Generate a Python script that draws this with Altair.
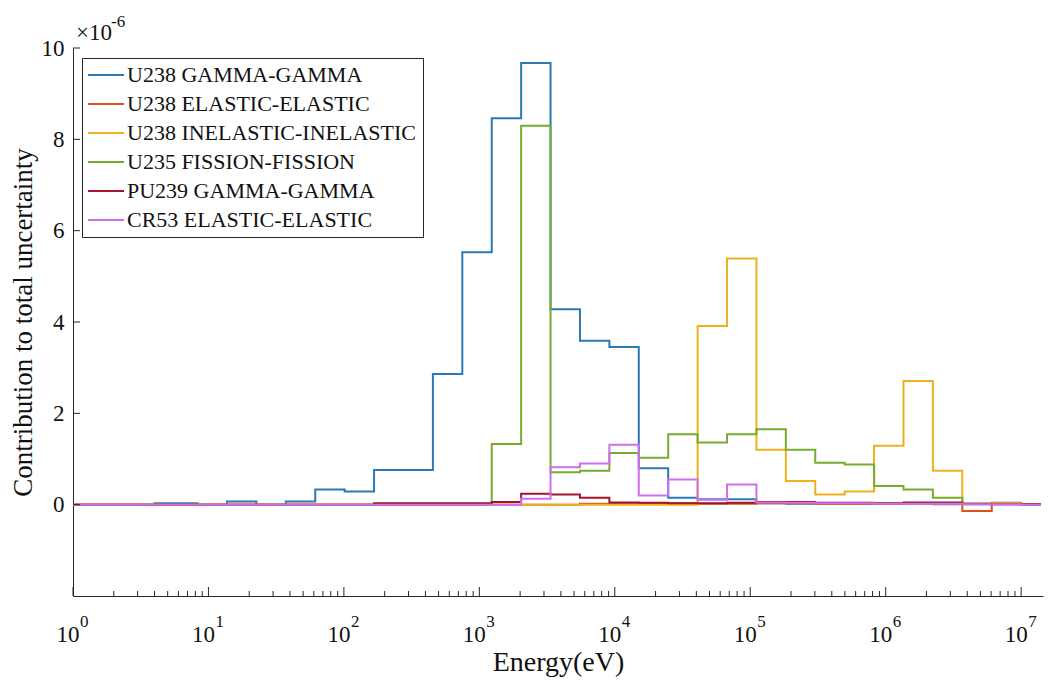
import altair as alt
import pandas as pd

# ---------------- data (values in units of 1e-6) ----------------
edges = [1, 4.0, 8.3153, 13.71, 22.603, 37.27, 61.44, 101.3, 167.0, 275.4, 454.0,
         748.52, 1234.1, 2034.7, 3354.6, 5530.8, 9118.8, 15034, 24788, 40868, 67379,
         111090, 183160, 301970, 497870, 820850, 1353400, 2231300, 3678800, 6065300,
         1.0e7, 1.4e7]

series_names = ["U238 GAMMA-GAMMA", "U238 ELASTIC-ELASTIC", "U238 INELASTIC-INELASTIC",
                "U235 FISSION-FISSION", "PU239 GAMMA-GAMMA", "CR53 ELASTIC-ELASTIC"]
series_colors = ["#2B79B5", "#D95319", "#EDB120", "#77AC30", "#A2142F", "#D06EF0"]

u238_gamma = [0, 0.03, 0, 0.07, 0, 0.07, 0.33, 0.29, 0.76, 0.76, 2.86, 5.53, 8.46, 9.67,
              4.28, 3.59, 3.45, 0.80, 0.15, 0.12, 0.12, 0.03, 0.02, 0.02, 0.02, 0.02,
              0.02, 0.01, 0.01, 0.01, 0]
u238_elastic = [0, 0, 0, 0, 0, 0, 0, 0, 0, 0, 0, 0, 0, 0, 0, 0.02, 0.02, 0.02, 0.03, 0.02,
                0.02, 0.03, 0.03, 0.02, 0.02, 0.02, 0.03, 0.02, -0.14, 0.04, 0.01]
u238_inelastic = [0, 0, 0, 0, 0, 0, 0, 0, 0, 0, 0, 0, 0, 0, 0, 0, 0, 0, 0,
                  3.91, 5.39, 1.20, 0.52, 0.22, 0.29, 1.29, 2.71, 0.74, 0.02, 0.03, 0.01]
u235_fission = [0, 0, 0, 0, 0, 0, 0, 0, 0, 0, 0, 0,
                1.33, 8.30, 0.71, 0.74, 1.13, 1.03, 1.54, 1.36, 1.54, 1.65, 1.20, 0.92,
                0.88, 0.41, 0.33, 0.15, 0.02, 0.02, 0.01]
pu239_gamma = [0, 0, 0, 0, 0, 0, 0, 0, 0.03, 0.03, 0.03, 0.03, 0.06, 0.24, 0.22, 0.15,
               0.05, 0.04, 0.03, 0.03, 0.04, 0.06, 0.06, 0.04, 0.04, 0.03, 0.05, 0.05,
               0.02, 0.01, 0.01]
cr53_elastic = [0, 0, 0, 0, 0, 0, 0, 0, 0, 0, 0, 0, 0,
                0.13, 0.82, 0.90, 1.31, 0.20, 0.55, 0.11, 0.44, 0.05, 0.04, 0.03, 0.03,
                0.02, 0.02, 0.02, 0.01, 0.01, 0]

series_values = [u238_gamma, u238_elastic, u238_inelastic, u235_fission, pu239_gamma, cr53_elastic]

y_tick_values = [0, 2, 4, 6, 8, 10]
decade_exps = [0, 1, 2, 3, 4, 5, 6, 7]
x_max = 1.45e7

# ---------------- tables ----------------
rows = []
for name, vals in zip(series_names, series_values):
    for e, v in zip(edges, vals + [vals[-1]]):
        rows.append({"E": e, "value": v, "series": name})
df = pd.DataFrame(rows)

major_df = pd.DataFrame({"E": [10.0 ** k for k in decade_exps],
                         "base": ["10"] * len(decade_exps),
                         "exp": [str(k) for k in decade_exps]})
minor_E = [m * 10.0 ** d for d in range(0, 8) for m in range(2, 10) if m * 10.0 ** d <= x_max]
minor_df = pd.DataFrame({"E": minor_E})
ytick_df = pd.DataFrame({"value": y_tick_values})

FONT = "Liberation Serif"
INK = "#262626"
TXT = "#111111"
W, H = 970, 548

xscale = alt.Scale(type="log", domain=[1, x_max], nice=False)
yscale = alt.Scale(domain=[-2, 10], nice=False, zero=False)
xaxis = alt.Axis(labels=False, ticks=False, grid=False, domainColor=INK, title="Energy(eV)",
                 titleFont=FONT, titleFontSize=28, titleFontWeight="normal", titleColor=TXT,
                 titlePadding=52)
yaxis = alt.Axis(values=y_tick_values, ticks=False, grid=False, domainColor=INK,
                 labelFont=FONT, labelFontSize=23, labelColor=TXT, labelPadding=9,
                 title="Contribution to total uncertainty", titleFont=FONT, titleFontSize=27,
                 titleFontWeight="normal", titleColor=TXT, titlePadding=4)
X = alt.X("E:Q", scale=xscale, axis=xaxis)
Y = alt.Y("value:Q", scale=yscale, axis=yaxis)

lines = alt.Chart(df).mark_line(interpolate="step-after", strokeWidth=2, clip=True).encode(
    x=X, y=Y,
    color=alt.Color("series:N", sort=series_names,
                    scale=alt.Scale(domain=series_names, range=series_colors),
                    legend=alt.Legend(orient="none", legendX=9, legendY=10, title=None,
                                      symbolType="M-2,0H2", symbolSize=324, symbolStrokeWidth=2,
                                      symbolOffset=7,
                                      labelFont=FONT, labelFontSize=22, labelColor=TXT,
                                      labelLimit=500, labelOffset=10, fillColor="white",
                                      strokeColor=INK, padding=6, rowPadding=7)),
)

major_ticks = alt.Chart(major_df).mark_rule(color=INK, strokeWidth=1).encode(
    x=X, y=alt.value(H), y2=alt.value(H - 9))
minor_ticks = alt.Chart(minor_df).mark_rule(color=INK, strokeWidth=1).encode(
    x=X, y=alt.value(H), y2=alt.value(H - 5))
y_ticks = alt.Chart(ytick_df).mark_rule(color=INK, strokeWidth=1).encode(
    y=Y, x=alt.value(0), x2=alt.value(7))

x_base = alt.Chart(major_df).mark_text(font=FONT, fontSize=23, align="center", baseline="alphabetic",
                                       dx=-5, color=TXT).encode(
    x=X, y=alt.value(H + 46), text="base:N")
x_exp = alt.Chart(major_df).mark_text(font=FONT, fontSize=17, align="left", baseline="alphabetic",
                                      dx=7, color=TXT).encode(
    x=X, y=alt.value(H + 31), text="exp:N")

mult_df = pd.DataFrame({"t": ["\u00d710"], "e": ["-6"]})
mult_base = alt.Chart(mult_df).mark_text(font=FONT, fontSize=23, align="left", baseline="alphabetic",
                                         color=TXT).encode(
    x=alt.value(3), y=alt.value(-8), text="t:N")
mult_exp = alt.Chart(mult_df).mark_text(font=FONT, fontSize=17, align="left", baseline="alphabetic",
                                        color=TXT).encode(
    x=alt.value(38), y=alt.value(-21), text="e:N")

chart = alt.layer(lines, major_ticks, minor_ticks, y_ticks, x_base, x_exp, mult_base, mult_exp).properties(
    width=W, height=H,
    padding={"left": 65, "top": 40, "right": 2, "bottom": 86},
    autosize=alt.AutoSizeParams(type="none"),
    background="white",
).configure_view(strokeWidth=0)

chart.save("out.html", embed_options={"renderer": "svg", "actions": False})
